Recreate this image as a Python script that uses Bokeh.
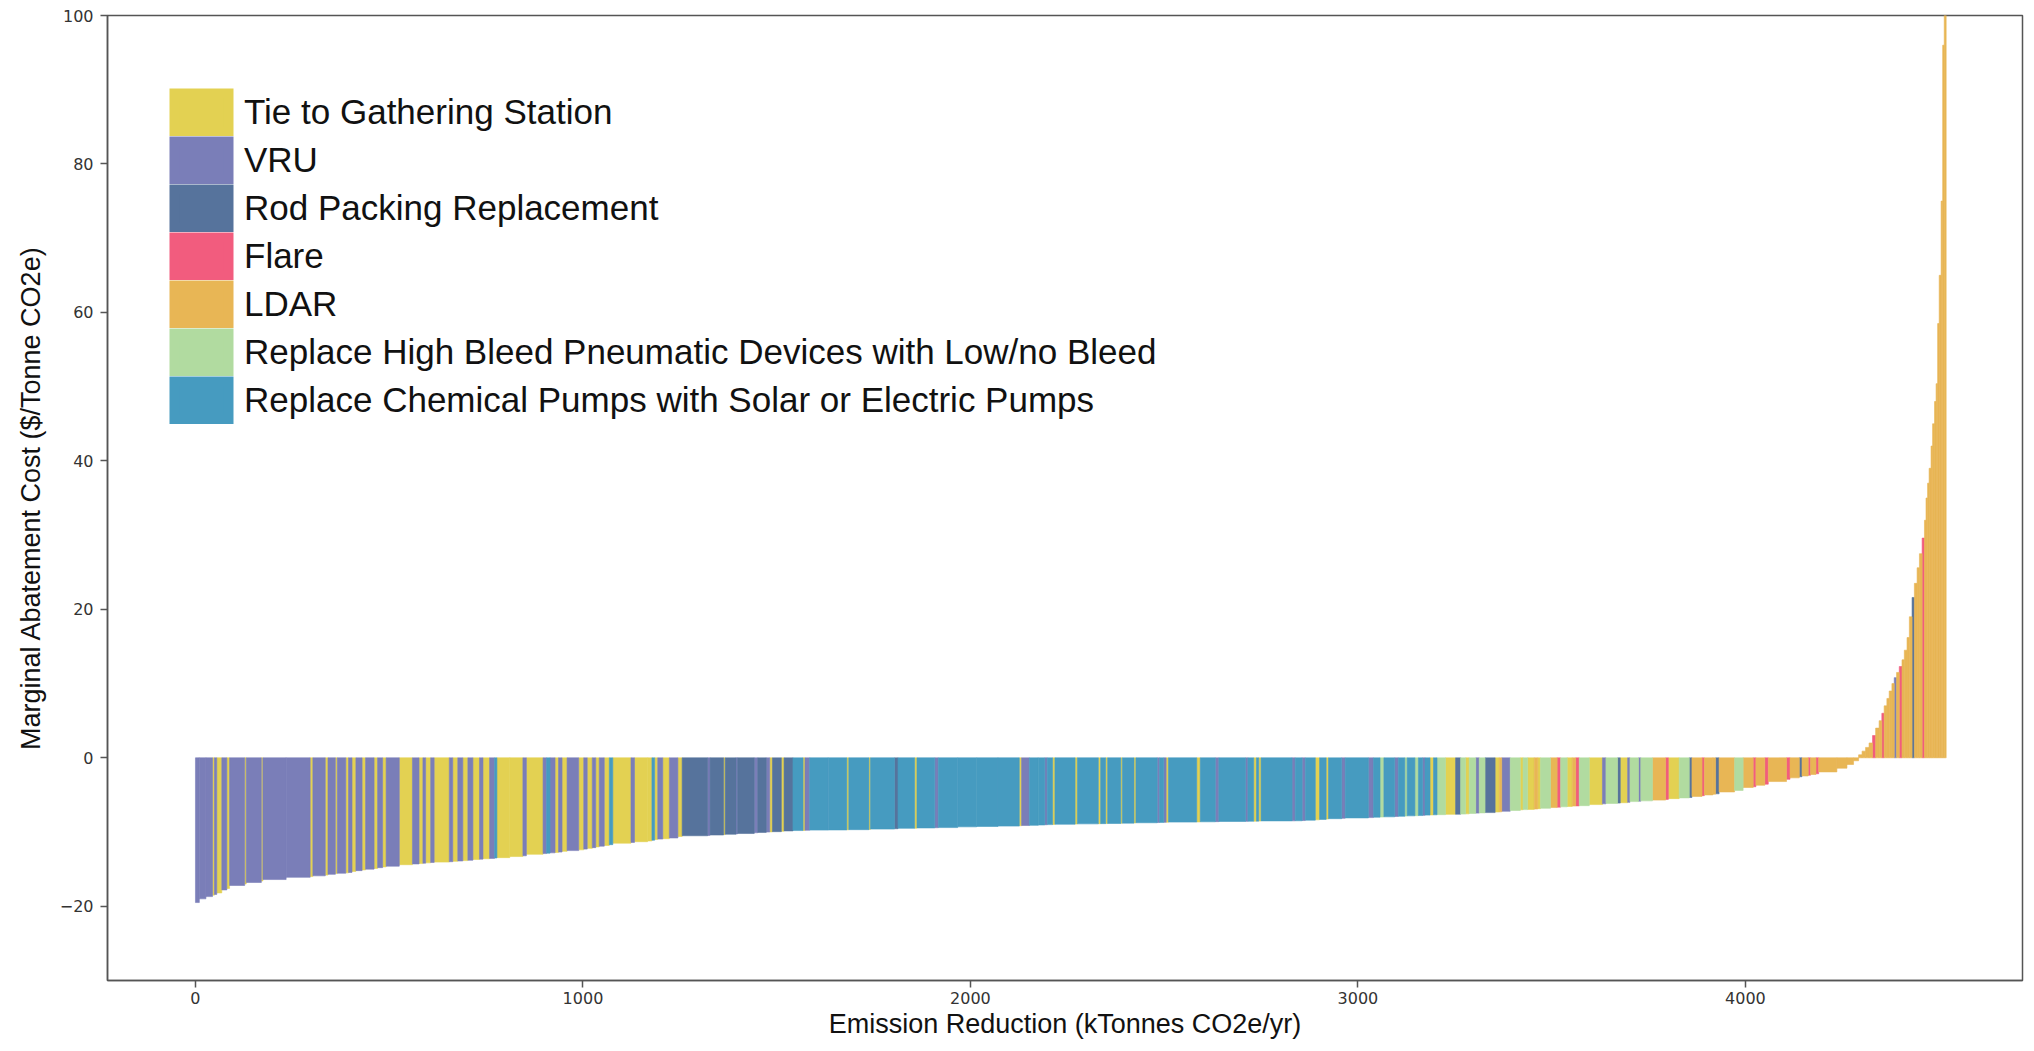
import numpy as np
from bokeh.plotting import figure
from bokeh.models import (ColumnDataSource, CDSView, GroupFilter, Legend, LegendItem,
                          FixedTicker, Range1d)
from bokeh.embed import file_html
from bokeh.resources import INLINE

# ---- measure names and colours (legend order) ----
measure_codes = ["T", "V", "R", "F", "L", "H", "C"]
measure_names = ["Tie to Gathering Station", "VRU", "Rod Packing Replacement", "Flare", "LDAR",
                 "Replace High Bleed Pneumatic Devices with Low/no Bleed",
                 "Replace Chemical Pumps with Solar or Electric Pumps"]
measure_colors = ["#E3D152", "#7A7EB8", "#56739C", "#F25C7E", "#E8B655", "#B1DBA0", "#469BC0"]

# ---- each bar: measure, emission reduction (kt CO2e/yr), marginal cost ($/t) ----
bar_measure = [
    "V", "V", "V", "T", "V", "T", "V", "T", "V", "T", "V", "T", "V", "V", "T", "V", "T", "V", "T", "V",
    "T", "V", "T", "V", "T", "V", "T", "V", "T", "V", "T", "V", "T", "V", "T", "V", "T", "V", "T", "V",
    "T", "V", "T", "V", "T", "V", "C", "T", "T", "V", "T", "V", "C", "V", "T", "V", "T", "V", "T", "V",
    "T", "V", "T", "V", "T", "C", "T", "V", "T",
    "T", "C", "T", "V", "T", "V", "T", "R", "V", "R", "T", "R", "V", "R", "V", "R", "V", "T", "R", "T",
    "R", "C", "T", "V", "C", "C", "T", "C", "T", "C", "R", "C", "T", "C", "V", "C", "C", "C", "C", "T",
    "V", "C", "C", "V", "C", "T", "C", "T", "C", "T",
    "C", "T", "C", "T", "C", "T", "C", "V", "C", "V", "T", "C", "T", "C", "V", "C", "V", "C", "T", "C",
    "T", "C", "V", "C", "V", "C", "T", "C", "T", "C", "V", "C", "V", "C", "H", "C", "V", "C", "H", "C",
    "H", "C", "V", "C", "T", "C", "H", "T", "R", "H", "T", "H", "V", "H", "R", "T", "L", "V", "H", "T",
    "H", "T", "L", "T", "H", "L",
    "F", "H", "T", "L", "F", "H", "T", "V", "H", "R", "T", "V", "H", "V", "H", "L", "F", "T", "H", "R",
    "L", "F", "L", "L", "R", "L", "H", "L", "F", "L", "F", "L", "F", "L", "R", "L", "F", "L", "F", "L",
    "L", "L", "L",
    "L", "L", "L", "L", "F", "L", "L", "F", "L", "L", "L", "L", "V", "L", "F", "L", "L", "L", "L", "R",
    "L", "L", "L", "F", "L", "L", "L", "L", "L", "L", "L", "L", "L", "L", "L", "L", "L",
]
bar_reduction = [
    10, 17, 17, 5, 6, 13, 13, 7, 39, 4, 39, 4, 60, 62, 7, 32, 7, 19, 5, 22,
    7, 9, 10, 16, 9, 22, 9, 13, 9, 34, 34, 17, 10, 7, 13, 9, 39, 9, 13, 13,
    13, 13, 17, 9, 17, 13, 6, 33, 34, 9, 43, 9, 9, 13, 9, 9, 13, 30, 13, 9,
    13, 9, 9, 13, 13, 9, 47, 9, 34,
    11, 7, 8, 13, 17, 22, 11, 66, 6, 35, 4, 28, 4, 43, 9, 22, 9, 7, 23, 7,
    23, 26, 5, 12, 48, 48, 5, 52, 4, 62, 9, 43, 6, 46, 9, 50, 49, 55, 55, 6,
    20, 23, 17, 6, 14, 6, 52, 6, 54, 6,
    13, 5, 34, 4, 30, 5, 55, 6, 11, 6, 6, 73, 9, 39, 9, 69, 6, 15, 7, 6,
    6, 80, 8, 18, 8, 26, 11, 17, 6, 34, 9, 60, 13, 17, 10, 28, 9, 17, 6, 20,
    9, 11, 6, 13, 9, 9, 22, 26, 13, 13, 9, 17, 9, 15, 26, 11, 6, 22, 26, 7,
    12, 17, 9, 7, 26, 17,
    9, 17, 13, 9, 9, 26, 34, 9, 30, 7, 19, 6, 22, 6, 30, 34, 7, 28, 26, 7,
    26, 6, 22, 7, 9, 40, 22, 26, 7, 23, 9, 47, 9, 24, 7, 16, 6, 14, 7, 47,
    26, 17, 13,
    9, 9, 9, 9, 8, 9, 7, 6, 7, 6, 7, 6, 6, 7, 7, 6, 7, 6, 7, 6,
    7, 6, 7, 6, 4, 4, 4, 5, 4, 5, 4, 4, 4, 5, 4, 4, 5,
]
bar_cost = [
    -19.5, -19.0, -18.7, -18.5, -18.4, -18.2, -17.8, -17.6, -17.2, -17.0, -16.8, -16.6, -16.4, -16.1, -16.0, -15.9, -15.8, -15.7, -15.6, -15.55,
    -15.5, -15.45, -15.3, -15.2, -15.1, -15.0, -14.9, -14.8, -14.7, -14.6, -14.4, -14.3, -14.25, -14.2, -14.15, -14.1, -14.05, -14.0, -13.95, -13.9,
    -13.85, -13.8, -13.7, -13.65, -13.6, -13.55, -13.5, -13.45, -13.3, -13.2, -13.0, -12.9, -12.85, -12.8, -12.75, -12.7, -12.6, -12.5, -12.4, -12.3,
    -12.2, -12.1, -12.0, -11.9, -11.8, -11.7, -11.5, -11.4, -11.3,
    -11.2, -11.1, -11.0, -10.95, -10.9, -10.8, -10.6, -10.5, -10.45, -10.4, -10.35, -10.3, -10.25, -10.2, -10.1, -10.05, -10.0, -9.98, -9.95, -9.9,
    -9.85, -9.8, -9.78, -9.76, -9.74, -9.72, -9.7, -9.68, -9.66, -9.6, -9.55, -9.5, -9.48, -9.45, -9.42, -9.4, -9.3, -9.25, -9.2, -9.15,
    -9.12, -9.1, -9.05, -9.02, -9.0, -8.98, -8.95, -8.93, -8.9, -8.88,
    -8.87, -8.86, -8.85, -8.82, -8.8, -8.78, -8.75, -8.72, -8.7, -8.69, -8.68, -8.66, -8.64, -8.62, -8.6, -8.58, -8.56, -8.55, -8.54, -8.53,
    -8.52, -8.5, -8.49, -8.48, -8.45, -8.4, -8.35, -8.3, -8.25, -8.2, -8.15, -8.1, -8.05, -8.0, -7.98, -7.95, -7.9, -7.88, -7.85, -7.82,
    -7.8, -7.78, -7.75, -7.72, -7.7, -7.68, -7.66, -7.62, -7.6, -7.58, -7.55, -7.5, -7.45, -7.42, -7.38, -7.3, -7.28, -7.2, -7.1, -7.0,
    -6.98, -6.95, -6.9, -6.85, -6.8, -6.7,
    -6.65, -6.6, -6.55, -6.5, -6.48, -6.45, -6.3, -6.2, -6.15, -6.1, -6.05, -6.0, -5.9, -5.85, -5.8, -5.7, -5.6, -5.5, -5.4, -5.35,
    -5.2, -5.1, -5.0, -4.9, -4.85, -4.6, -4.4, -4.0, -3.9, -3.7, -3.55, -3.2, -2.9, -2.7, -2.55, -2.45, -2.35, -2.25, -2.15, -1.9,
    -1.4, -0.9, -0.4,
    0.4, 0.9, 1.4, 2.0, 3.0, 4.0, 5.0, 6.0, 7.0, 8.0, 9.0, 10.0, 10.8, 11.5, 12.3, 13.2, 14.5, 16.2, 19.0, 21.6,
    23.5, 25.6, 27.5, 29.6, 32, 35, 37, 39, 42, 45, 48, 50.4, 58.5, 65, 75, 96, 115,
]

x_ticks = [0, 1000, 2000, 3000, 4000]
y_ticks = [-20, 0, 20, 40, 60, 80, 100]

# ---- build the curve ----
w = np.array(bar_reduction, dtype=float)
c = np.array(bar_cost, dtype=float)
right = np.cumsum(w)
left = right - w
src = ColumnDataSource(dict(left=left, right=right, top=np.maximum(c, 0), bottom=np.minimum(c, 0),
                            code=bar_measure))
# one undrawable (NaN) row, used only so that the legend swatches get painted
swatch_src = ColumnDataSource(dict(left=[np.nan], right=[np.nan], top=[np.nan], bottom=[np.nan]))

p = figure(frame_width=1915, frame_height=965,
           x_range=Range1d(-227, 4715), y_range=Range1d(-30, 100),
           output_backend="svg", toolbar_location=None,
           min_border_left=107, min_border_right=4, min_border_top=15, min_border_bottom=63,
           background_fill_color="white", border_fill_color="white")

items = []
for code, name, col in zip(measure_codes, measure_names, measure_colors):
    view = CDSView(filter=GroupFilter(column_name="code", group=code))
    p.quad(left="left", right="right", top="top", bottom="bottom", source=src, view=view,
           fill_color=col, line_color=col, line_width=0.6)
    # legend swatch: thick outline so that the swatches touch each other
    sw = p.quad(left="left", right="right", top="top", bottom="bottom", source=swatch_src,
                fill_color=col, line_color=col, line_width=9.6, line_join="miter")
    items.append(LegendItem(label=name, renderers=[sw]))

legend = Legend(items=items, location=(60, 556), orientation="vertical",
                glyph_width=68, glyph_height=48, spacing=0, padding=0, margin=0,
                label_standoff=9, label_height=48,
                label_text_font="Liberation Sans", label_text_font_size="35px",
                label_text_color="#111111", label_text_baseline="middle",
                background_fill_alpha=0, border_line_color=None)
p.add_layout(legend)

p.xgrid.visible = False
p.ygrid.visible = False
p.outline_line_color = "#555555"
p.outline_line_width = 1.5
p.outline_line_alpha = 1

p.xaxis.ticker = FixedTicker(ticks=x_ticks)
p.yaxis.ticker = FixedTicker(ticks=y_ticks)
p.yaxis.major_label_overrides = {-20: "\u221220"}

for ax in (p.xaxis, p.yaxis):
    ax.axis_line_color = "#555555"
    ax.axis_line_width = 1.5
    ax.major_tick_line_color = "#555555"
    ax.major_tick_line_width = 1.5
    ax.major_tick_in = 0
    ax.major_tick_out = 7
    ax.minor_tick_line_color = None
    ax.major_label_text_font = "DejaVu Sans"
    ax.major_label_text_font_size = "16px"
    ax.major_label_text_color = "#333333"
    ax.axis_label_text_font = "Liberation Sans"
    ax.axis_label_text_font_size = "27px"
    ax.axis_label_text_font_style = "normal"
    ax.axis_label_text_color = "#111111"

p.xaxis.axis_label = "Emission Reduction (kTonnes CO2e/yr)"
p.yaxis.axis_label = "Marginal Abatement Cost ($/Tonne CO2e)"
p.xaxis.major_label_standoff = 4
p.xaxis.axis_label_standoff = 2
p.yaxis.major_label_standoff = 7
p.yaxis.axis_label_standoff = 11

open("out.html", "w").write(file_html(p, INLINE))
